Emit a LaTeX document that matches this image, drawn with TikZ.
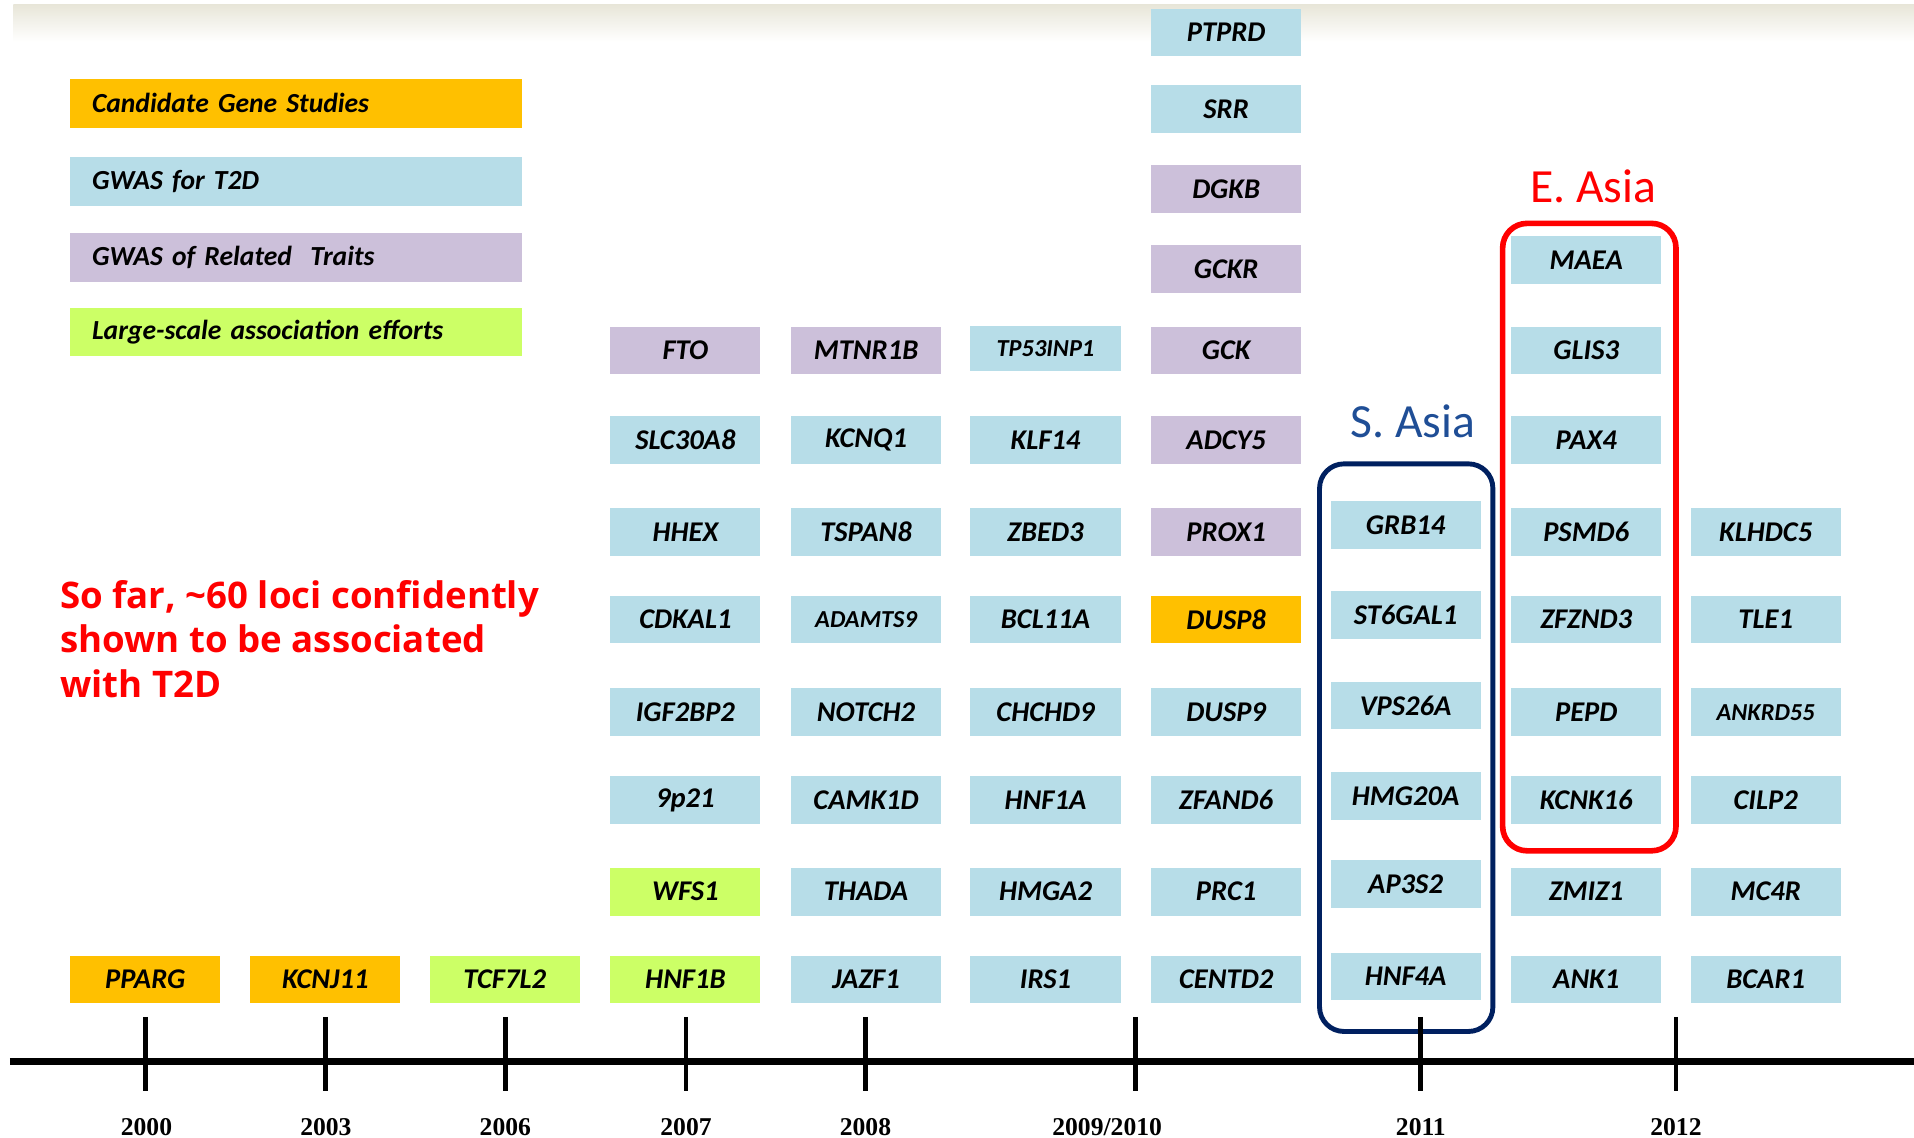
\documentclass[tikz,border=0pt]{standalone}
\usepackage{fontspec}
\setmainfont{Carlito}
\newfontfamily\yearfont{Liberation Serif}
\newfontfamily\notefont{Open Sans}
\usepackage{tikz}
\usetikzlibrary{positioning}

\definecolor{candorange}{HTML}{FFC000}
\definecolor{gwasblue}{HTML}{B7DDE8}
\definecolor{relpurple}{HTML}{CCC0DA}
\definecolor{largegreen}{HTML}{CCFF66}
\definecolor{sasiablue}{HTML}{1F4E96}
\definecolor{sasianavy}{HTML}{002060}
\definecolor{headbeige}{HTML}{E8E6D9}

\tikzset{
  gene/.style={minimum width=61.5pt, minimum height=19.5pt, inner sep=0pt,
    font=\fontsize{11.7}{12}\selectfont\bfseries\itshape},
  smallgene/.style={font=\fontsize{10}{11}\selectfont\bfseries\itshape},
  candbox/.style={gene, fill=candorange},
  gwasbox/.style={gene, fill=gwasblue},
  relbox/.style={gene, fill=relpurple},
  largebox/.style={gene, fill=largegreen},
  legendbox/.style={anchor=west, minimum height=20pt, text width=167pt, inner xsep=9pt,
    inner ysep=0pt, align=left, font=\fontsize{11.3}{12}\selectfont\bfseries\itshape},
  yearlabel/.style={anchor=base, font=\yearfont\fontsize{10.5}{12}\selectfont\bfseries},
  yeartick/.style={line width=2pt},
  regionlabel/.style={anchor=base, inner sep=0pt, font=\fontsize{19.5}{22}\selectfont},
}

\begin{document}
\begin{tikzpicture}[x=0.5pt, y=-0.5pt]
  \useasboundingbox (0,0) rectangle (1568,932);
  \shade[top color=headbeige, bottom color=white] (11,4) rectangle (1568,34);

  \node[legendbox, fill=candorange] (legcand) at (57,84.5) {Candidate Gene Studies};
  \node[legendbox, fill=gwasblue] (leggwas) at (57,149) {GWAS for T2D};
  \node[legendbox, fill=relpurple] (legrel) at (57,211) {GWAS of Related\ \ Traits};
  \node[legendbox, fill=largegreen] (leglarge) at (57,272) {Large-scale association efforts};

  \node[anchor=north west, align=left, text=red, inner sep=0pt,
    font=\notefont\fontsize{15}{18.25}\selectfont\bfseries] (note) at (49,475)
    {So far, \textasciitilde60 loci confidently\\shown to be associated\\with T2D};

  \node[candbox] (pparg) at (119,802.5) {PPARG};
  \node[candbox] (kcnj11) at (266.5,802.5) {KCNJ11};
  \node[largebox] (tcf7l2) at (413.5,802.5) {TCF7L2};

  \node[relbox] (fto) at (561.5,287) {FTO};
  \node[gwasbox] (slc30a8) at (561.5,360.5) {SLC30A8};
  \node[gwasbox] (hhex) at (561.5,436) {HHEX};
  \node[gwasbox] (cdkal1) at (561.5,507.5) {CDKAL1};
  \node[gwasbox] (igf2bp2) at (561.5,583.5) {IGF2BP2};
  \node[gwasbox] (9p21) at (561.5,655.5) {9p21};
  \node[largebox] (wfs1) at (561.5,730.5) {WFS1};
  \node[largebox] (hnf1b) at (561.5,802.5) {HNF1B};

  \node[relbox] (mtnr1b) at (709.5,287) {MTNR1B};
  \node[gwasbox] (kcnq1) at (709.5,360.5) {KCNQ1};
  \node[gwasbox] (tspan8) at (709.5,436) {TSPAN8};
  \node[gwasbox, smallgene] (adamts9) at (709.5,507.5) {ADAMTS9};
  \node[gwasbox] (notch2) at (709.5,583.5) {NOTCH2};
  \node[gwasbox] (camk1d) at (709.5,655.5) {CAMK1D};
  \node[gwasbox] (thada) at (709.5,730.5) {THADA};
  \node[gwasbox] (jazf1) at (709.5,802.5) {JAZF1};

  \node[gwasbox, smallgene, minimum height=18.5pt] (tp53inp1) at (856.5,285.5) {TP53INP1};
  \node[gwasbox] (klf14) at (856.5,360.5) {KLF14};
  \node[gwasbox] (zbed3) at (856.5,436) {ZBED3};
  \node[gwasbox] (bcl11a) at (856.5,507.5) {BCL11A};
  \node[gwasbox] (chchd9) at (856.5,583.5) {CHCHD9};
  \node[gwasbox] (hnf1a) at (856.5,655.5) {HNF1A};
  \node[gwasbox] (hmga2) at (856.5,730.5) {HMGA2};
  \node[gwasbox] (irs1) at (856.5,802.5) {IRS1};

  \node[gwasbox] (ptprd) at (1004.5,26.5) {PTPRD};
  \node[gwasbox] (srr) at (1004.5,89.5) {SRR};
  \node[relbox] (dgkb) at (1004.5,155) {DGKB};
  \node[relbox] (gckr) at (1004.5,220.5) {GCKR};
  \node[relbox] (gck) at (1004.5,287) {GCK};
  \node[relbox] (adcy5) at (1004.5,360.5) {ADCY5};
  \node[relbox] (prox1) at (1004.5,436) {PROX1};
  \node[candbox] (dusp8) at (1004.5,507.5) {DUSP8};
  \node[gwasbox] (dusp9) at (1004.5,583.5) {DUSP9};
  \node[gwasbox] (zfand6) at (1004.5,655.5) {ZFAND6};
  \node[gwasbox] (prc1) at (1004.5,730.5) {PRC1};
  \node[gwasbox] (centd2) at (1004.5,802.5) {CENTD2};

  \node[gwasbox] (grb14) at (1151.5,430) {GRB14};
  \node[gwasbox] (st6gal1) at (1151.5,504) {ST6GAL1};
  \node[gwasbox] (vps26a) at (1151.5,578) {VPS26A};
  \node[gwasbox] (hmg20a) at (1151.5,652) {HMG20A};
  \node[gwasbox] (ap3s2) at (1151.5,724) {AP3S2};
  \node[gwasbox] (hnf4a) at (1151.5,800) {HNF4A};

  \node[gwasbox] (maea) at (1299.5,213) {MAEA};
  \node[gwasbox] (glis3) at (1299.5,287) {GLIS3};
  \node[gwasbox] (pax4) at (1299.5,360.5) {PAX4};
  \node[gwasbox] (psmd6) at (1299.5,436) {PSMD6};
  \node[gwasbox] (zfznd3) at (1299.5,507.5) {ZFZND3};
  \node[gwasbox] (pepd) at (1299.5,583.5) {PEPD};
  \node[gwasbox] (kcnk16) at (1299.5,655.5) {KCNK16};
  \node[gwasbox] (zmiz1) at (1299.5,730.5) {ZMIZ1};
  \node[gwasbox] (ank1) at (1299.5,802.5) {ANK1};

  \node[gwasbox] (klhdc5) at (1446.5,436) {KLHDC5};
  \node[gwasbox] (tle1) at (1446.5,507.5) {TLE1};
  \node[gwasbox, smallgene] (ankrd55) at (1446.5,583.5) {ANKRD55};
  \node[gwasbox] (cilp2) at (1446.5,655.5) {CILP2};
  \node[gwasbox] (mc4r) at (1446.5,730.5) {MC4R};
  \node[gwasbox] (bcar1) at (1446.5,802.5) {BCAR1};

  \draw[sasianavy, line width=2pt, rounded corners=10pt] (1081,380) rectangle (1223,845);
  \node[regionlabel, text=sasiablue] (sasia) at (1157.5,358) {S. Asia};
  \draw[red, line width=2.3pt, rounded corners=10pt] (1231,183) rectangle (1373,697);
  \node[regionlabel, text=red] (easia) at (1305,165.5) {E. Asia};

  \draw[line width=3pt] (8,869.5) -- (1568,869.5);
  \draw[yeartick] (119,833) -- (119,894);
  \draw[yeartick] (267,833) -- (267,894);
  \draw[yeartick] (414,833) -- (414,894);
  \draw[yeartick] (562,833) -- (562,894);
  \draw[yeartick] (709,833) -- (709,894);
  \draw[yeartick] (930,833) -- (930,894);
  \draw[yeartick] (1164,833) -- (1164,894);
  \draw[yeartick] (1373,833) -- (1373,894);

  \node[yearlabel] (y2000) at (120,930) {2000};
  \node[yearlabel] (y2003) at (267,930) {2003};
  \node[yearlabel] (y2006) at (414,930) {2006};
  \node[yearlabel] (y2007) at (562,930) {2007};
  \node[yearlabel] (y2008) at (709,930) {2008};
  \node[yearlabel] (y2009) at (907,930) {2009/2010};
  \node[yearlabel] (y2011) at (1164,930) {2011};
  \node[yearlabel] (y2012) at (1373,930) {2012};
\end{tikzpicture}
\end{document}
